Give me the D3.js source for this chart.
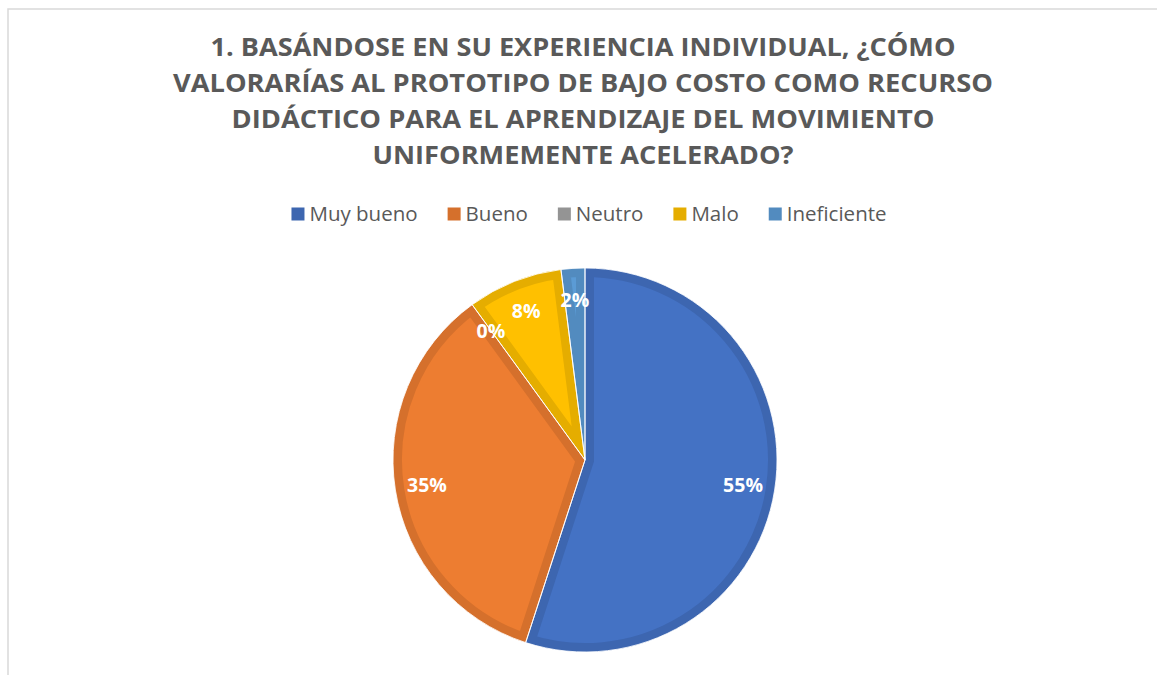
<!DOCTYPE html>
<html>
<head>
<meta charset="utf-8">
<script src="https://cdn.jsdelivr.net/npm/d3@7"></script>
<style>
  html, body { margin: 0; padding: 0; background: #fff; }
  svg { display: block; font-family: "Open Sans", "DejaVu Sans", sans-serif; }
</style>
</head>
<body>
<div id="chart"></div>
<script>
const width = 1157, height = 675;

// data
const categories = ["Muy bueno", "Bueno", "Neutro", "Malo", "Ineficiente"];
const percents = [55, 35, 0, 8, 2];
const titleLines = [
    "1. BASÁNDOSE EN SU EXPERIENCIA INDIVIDUAL, ¿CÓMO",
    "VALORARÍAS AL PROTOTIPO DE BAJO COSTO COMO RECURSO",
    "DIDÁCTICO PARA EL APRENDIZAJE DEL MOVIMIENTO",
    "UNIFORMEMENTE ACELERADO?"
];

const fills = ["#4472C4", "#ED7D31", "#A5A5A5", "#FFC000", "#5B9BD5"];
const borderOf = c => d3.color(c).darker(0.3).formatHex();

const svg = d3.select("#chart").append("svg")
    .attr("width", width)
    .attr("height", height);

svg.append("rect").attr("width", width).attr("height", height).attr("fill", "#fff");

// chart frame (runs off the right and bottom of the shot)
svg.append("rect")
    .attr("x", 8).attr("y", 9)
    .attr("width", 1200).attr("height", 700)
    .attr("fill", "none")
    .attr("stroke", "#d9d9d9")
    .attr("stroke-width", 1.5);

// title
const titleWidths = [745, 820, 703, 421];
svg.append("g").selectAll("text")
    .data(titleLines)
    .join("text")
    .attr("x", 583)
    .attr("y", (d, i) => 56 + i * 36)
    .attr("text-anchor", "middle")
    .attr("font-size", 24.5)
    .attr("font-weight", 700)
    .attr("fill", "#595959")
    .attr("textLength", (d, i) => titleWidths[i])
    .attr("lengthAdjust", "spacingAndGlyphs")
    .text(d => d);

// legend
const legend = svg.append("g");
const items = legend.selectAll("g")
    .data(categories)
    .join("g");

items.append("rect")
    .attr("width", 13).attr("height", 13)
    .attr("y", -6.5)
    .attr("fill", (d, i) => borderOf(fills[i]));

items.append("text")
    .attr("x", 18)
    .attr("dy", "0.35em")
    .attr("font-size", 20.5)
    .attr("fill", "#595959")
    .text(d => d);

let lx = 0;
items.each(function() {
    const g = d3.select(this);
    g.attr("transform", `translate(${lx},0)`);
    lx += 18 + g.select("text").node().getComputedTextLength() + 30;
});
const legendW = lx - 30;
legend.attr("transform", `translate(${589 - legendW / 2},214)`);

// pie
const cx = 585, cy = 460, r = 192;
const pie = d3.pie().sort(null).value(d => d);
const arcs = pie(percents);
const arc = d3.arc().innerRadius(0).outerRadius(r);
const labelArc = d3.arc().innerRadius(160).outerRadius(160);

const pieG = svg.append("g").attr("transform", `translate(${cx},${cy})`);
const defs = svg.append("defs");

arcs.forEach((a, i) => {
    defs.append("clipPath").attr("id", `clip-${i}`)
        .append("path").attr("d", arc(a));
});

pieG.selectAll("path.slice")
    .data(arcs)
    .join("path")
    .attr("class", "slice")
    .attr("d", arc)
    .attr("clip-path", (d, i) => `url(#clip-${i})`)
    .attr("fill", (d, i) => fills[i])
    .attr("stroke", (d, i) => borderOf(fills[i]))
    .attr("stroke-width", 18)
    .attr("stroke-linejoin", "miter");

pieG.selectAll("path.sep")
    .data(arcs.filter(d => d.value > 0))
    .join("path")
    .attr("class", "sep")
    .attr("d", arc)
    .attr("fill", "none")
    .attr("stroke", "#fff")
    .attr("stroke-opacity", 0.85)
    .attr("stroke-width", 1);

pieG.selectAll("text.lbl")
    .data(arcs)
    .join("text")
    .attr("class", "lbl")
    .attr("transform", d => `translate(${labelArc.centroid(d)})`)
    .attr("text-anchor", "middle")
    .attr("dy", "0.36em")
    .attr("font-size", 19.5)
    .attr("font-weight", 700)
    .attr("fill", "#fff")
    .text(d => d.data + "%");
</script>
</body>
</html>
